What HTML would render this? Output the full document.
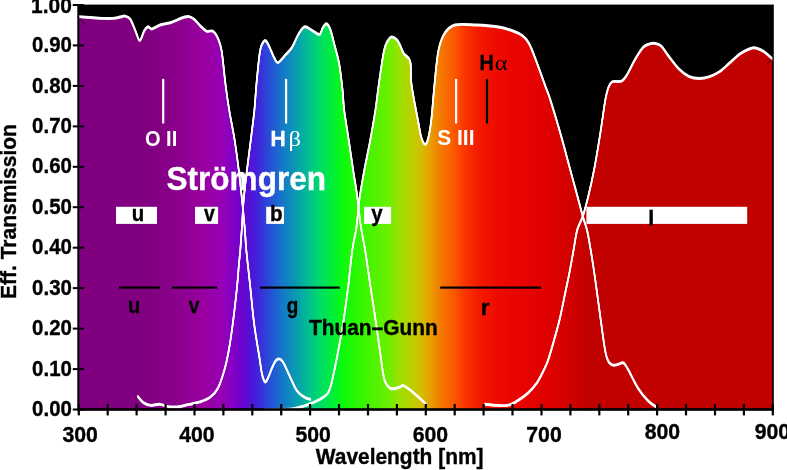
<!DOCTYPE html>
<html lang="en"><head><meta charset="utf-8"><title>Filter transmission: Strömgren and Thuan–Gunn</title>
<style>html,body{margin:0;padding:0;background:#fff;}body{width:787px;height:470px;overflow:hidden;}svg{display:block;}</style></head>
<body>
<svg width="787" height="470" viewBox="0 0 787 470" font-family="'Liberation Sans', sans-serif" font-weight="bold">
<defs><linearGradient id="sp" gradientUnits="userSpaceOnUse" x1="0" y1="0" x2="787" y2="0"><stop offset="0.0991" stop-color="rgb(128,0,128)"/><stop offset="0.1906" stop-color="rgb(128,0,128)"/><stop offset="0.2287" stop-color="rgb(140,0,142)"/><stop offset="0.2605" stop-color="rgb(154,0,160)"/><stop offset="0.2821" stop-color="rgb(150,0,182)"/><stop offset="0.2986" stop-color="rgb(126,0,200)"/><stop offset="0.3113" stop-color="rgb(98,6,210)"/><stop offset="0.3240" stop-color="rgb(70,28,218)"/><stop offset="0.3405" stop-color="rgb(42,72,216)"/><stop offset="0.3583" stop-color="rgb(22,118,202)"/><stop offset="0.3761" stop-color="rgb(8,155,178)"/><stop offset="0.3914" stop-color="rgb(0,190,145)"/><stop offset="0.4066" stop-color="rgb(0,220,104)"/><stop offset="0.4219" stop-color="rgb(0,238,60)"/><stop offset="0.4358" stop-color="rgb(12,250,12)"/><stop offset="0.4600" stop-color="rgb(55,246,0)"/><stop offset="0.4828" stop-color="rgb(92,241,0)"/><stop offset="0.4956" stop-color="rgb(112,238,0)"/><stop offset="0.5044" stop-color="rgb(148,226,0)"/><stop offset="0.5133" stop-color="rgb(166,218,0)"/><stop offset="0.5210" stop-color="rgb(182,211,0)"/><stop offset="0.5286" stop-color="rgb(200,200,0)"/><stop offset="0.5375" stop-color="rgb(215,185,0)"/><stop offset="0.5464" stop-color="rgb(230,160,0)"/><stop offset="0.5565" stop-color="rgb(242,130,0)"/><stop offset="0.5667" stop-color="rgb(248,108,0)"/><stop offset="0.5769" stop-color="rgb(250,88,0)"/><stop offset="0.5870" stop-color="rgb(250,62,0)"/><stop offset="0.5972" stop-color="rgb(248,42,0)"/><stop offset="0.6099" stop-color="rgb(245,24,0)"/><stop offset="0.6302" stop-color="rgb(238,11,0)"/><stop offset="0.6607" stop-color="rgb(232,4,0)"/><stop offset="0.6989" stop-color="rgb(222,0,0)"/><stop offset="0.7268" stop-color="rgb(208,0,0)"/><stop offset="0.7471" stop-color="rgb(193,0,0)"/><stop offset="0.9822" stop-color="rgb(193,0,0)"/></linearGradient></defs>
<rect x="0" y="0" width="787" height="470" fill="#fff"/>
<rect x="78" y="4.6" width="695" height="405.5" fill="#000"/>
<path d="M78.5,409.5 L78.50,16.60 C80.42,16.75 86.05,17.20 90.00,17.50 C93.95,17.80 98.47,18.25 102.20,18.40 C105.93,18.55 109.60,18.58 112.40,18.40 C115.20,18.22 116.87,17.68 119.00,17.30 C121.13,16.92 123.32,15.78 125.20,16.10 C127.08,16.42 128.60,16.77 130.30,19.20 C132.00,21.63 133.83,27.17 135.40,30.70 C136.97,34.23 138.22,40.40 139.70,40.40 C141.18,40.40 142.90,32.97 144.30,30.70 C145.70,28.43 146.82,27.10 148.10,26.80 C149.38,26.50 149.87,29.23 152.00,28.90 C154.13,28.57 157.72,25.87 160.90,24.80 C164.08,23.73 168.12,23.43 171.10,22.50 C174.08,21.57 176.65,20.08 178.80,19.20 C180.95,18.32 182.30,17.63 184.00,17.20 C185.70,16.77 187.32,16.27 189.00,16.60 C190.68,16.93 192.27,17.72 194.10,19.20 C195.93,20.68 197.95,23.50 200.00,25.50 C202.05,27.50 204.27,30.25 206.40,31.20 C208.53,32.15 210.88,30.02 212.80,31.20 C214.72,32.38 216.42,34.98 217.90,38.30 C219.38,41.62 220.43,43.43 221.70,51.10 C222.97,58.77 224.25,74.48 225.50,84.30 C226.75,94.12 227.68,100.75 229.20,110.00 C230.72,119.25 233.02,129.87 234.60,139.80 C236.18,149.73 237.47,159.67 238.70,169.60 C239.93,179.53 240.98,189.50 242.00,199.40 C243.02,209.30 244.08,220.57 244.80,229.00 C245.52,237.43 245.38,240.28 246.30,250.00 C247.22,259.72 248.98,274.92 250.30,287.30 C251.62,299.68 252.67,312.52 254.20,324.30 C255.73,336.08 258.20,349.72 259.50,358.00 C260.80,366.28 261.07,370.02 262.00,374.00 C262.93,377.98 264.10,381.23 265.10,381.90 C266.10,382.57 266.85,380.32 268.00,378.00 C269.15,375.68 270.75,370.83 272.00,368.00 C273.25,365.17 274.30,362.52 275.50,361.00 C276.70,359.48 277.95,358.73 279.20,358.90 C280.45,359.07 281.30,359.23 283.00,362.00 C284.70,364.77 287.07,370.68 289.40,375.50 C291.73,380.32 294.45,387.27 297.00,390.90 C299.55,394.53 302.48,395.90 304.70,397.30 C306.92,398.70 309.37,398.97 310.30,399.30 L310.3,409.5 Z" fill="url(#sp)"/>
<path d="M137.9,409.5 L137.90,396.50 C138.75,397.48 140.87,400.92 143.00,402.40 C145.13,403.88 147.93,405.10 150.70,405.40 C153.47,405.70 156.62,403.98 159.60,404.20 C162.58,404.42 165.40,406.28 168.60,406.70 C171.80,407.12 175.40,407.08 178.80,406.70 C182.20,406.32 185.47,405.20 189.00,404.40 C192.53,403.60 196.47,403.08 200.00,401.90 C203.53,400.72 207.22,399.57 210.20,397.30 C213.18,395.03 215.55,392.78 217.90,388.30 C220.25,383.82 222.53,376.45 224.30,370.40 C226.07,364.35 227.10,359.68 228.50,352.00 C229.90,344.32 231.28,335.08 232.70,324.30 C234.12,313.52 235.98,297.10 237.00,287.30 C238.02,277.50 238.25,271.72 238.80,265.50 C239.35,259.28 239.80,256.08 240.30,250.00 C240.80,243.92 241.23,237.43 241.80,229.00 C242.37,220.57 242.83,209.30 243.70,199.40 C244.57,189.50 245.82,179.53 247.00,169.60 C248.18,159.67 249.57,149.73 250.80,139.80 C252.03,129.87 253.47,119.25 254.40,110.00 C255.33,100.75 255.47,94.12 256.40,84.30 C257.33,74.48 258.85,58.13 260.00,51.10 C261.15,44.07 262.32,43.80 263.30,42.10 C264.28,40.40 264.95,40.25 265.90,40.90 C266.85,41.55 267.63,43.23 269.00,46.00 C270.37,48.77 272.62,54.73 274.10,57.50 C275.58,60.27 276.20,62.82 277.90,62.60 C279.60,62.38 281.95,58.75 284.30,56.20 C286.65,53.65 289.67,50.92 292.00,47.30 C294.33,43.68 296.18,37.92 298.30,34.50 C300.42,31.08 302.35,27.43 304.70,26.80 C307.05,26.17 309.93,29.42 312.40,30.70 C314.87,31.98 317.80,34.93 319.50,34.50 C321.20,34.07 321.45,29.88 322.60,28.10 C323.75,26.32 325.12,23.58 326.40,23.80 C327.68,24.02 329.02,26.13 330.30,29.40 C331.58,32.67 332.62,37.65 334.10,43.40 C335.58,49.15 337.80,56.23 339.20,63.90 C340.60,71.57 341.67,81.72 342.50,89.40 C343.33,97.08 343.17,101.60 344.20,110.00 C345.23,118.40 347.22,129.87 348.70,139.80 C350.18,149.73 351.67,160.17 353.10,169.60 C354.53,179.03 356.33,189.45 357.30,196.40 C358.27,203.35 358.23,205.83 358.90,211.30 C359.57,216.77 360.27,222.75 361.30,229.20 C362.33,235.65 363.55,240.32 365.10,250.00 C366.65,259.68 368.75,274.92 370.60,287.30 C372.45,299.68 374.55,313.02 376.20,324.30 C377.85,335.58 379.43,347.32 380.50,355.00 C381.57,362.68 381.82,365.92 382.60,370.40 C383.38,374.88 383.92,378.92 385.20,381.90 C386.48,384.88 388.50,387.23 390.30,388.30 C392.10,389.37 394.38,388.52 396.00,388.30 C397.62,388.08 398.70,387.42 400.00,387.00 C401.30,386.58 401.67,384.95 403.80,385.80 C405.93,386.65 409.18,389.13 412.80,392.10 C416.42,395.07 423.38,401.68 425.50,403.60 L425.5,409.5 Z" fill="url(#sp)"/>
<path d="M265.0,409.5 L265.00,409.60 C267.50,409.60 275.50,409.70 280.00,409.60 C284.50,409.50 288.73,409.38 292.00,409.00 C295.27,408.62 296.63,408.17 299.60,407.30 C302.57,406.43 306.40,405.13 309.80,403.80 C313.20,402.47 317.02,401.03 320.00,399.30 C322.98,397.57 325.78,396.08 327.70,393.40 C329.62,390.72 330.22,387.88 331.50,383.20 C332.78,378.52 334.32,370.50 335.40,365.30 C336.48,360.10 336.73,358.83 338.00,352.00 C339.27,345.17 341.32,335.08 343.00,324.30 C344.68,313.52 346.55,299.68 348.10,287.30 C349.65,274.92 350.95,259.68 352.30,250.00 C353.65,240.32 355.18,236.03 356.20,229.20 C357.22,222.37 357.80,214.47 358.40,209.00 C359.00,203.53 358.80,202.97 359.80,196.40 C360.80,189.83 362.65,179.03 364.40,169.60 C366.15,160.17 368.47,149.73 370.30,139.80 C372.13,129.87 373.98,119.25 375.40,110.00 C376.82,100.75 377.38,94.12 378.80,84.30 C380.22,74.48 382.42,58.33 383.90,51.10 C385.38,43.87 386.42,43.25 387.70,40.90 C388.98,38.55 390.10,37.22 391.60,37.00 C393.10,36.78 395.30,38.27 396.70,39.60 C398.10,40.93 398.82,42.67 400.00,45.00 C401.18,47.33 402.10,50.88 403.80,53.60 C405.50,56.32 408.92,56.18 410.20,61.30 C411.48,66.42 410.22,74.52 411.50,84.30 C412.78,94.08 416.23,111.05 417.90,120.00 C419.57,128.95 420.23,133.95 421.50,138.00 C422.77,142.05 424.33,144.47 425.50,144.30 C426.67,144.13 427.53,141.05 428.50,137.00 C429.47,132.95 430.30,128.78 431.30,120.00 C432.30,111.22 433.33,95.78 434.50,84.30 C435.67,72.82 436.60,59.62 438.30,51.10 C440.00,42.58 441.93,37.55 444.70,33.20 C447.47,28.85 449.58,26.37 454.90,25.00 C460.22,23.63 469.57,24.70 476.60,25.00 C483.63,25.30 491.13,25.85 497.10,26.80 C503.07,27.75 508.15,29.20 512.40,30.70 C516.65,32.20 519.83,33.68 522.60,35.80 C525.37,37.92 526.87,39.58 529.00,43.40 C531.13,47.22 532.63,51.47 535.40,58.70 C538.17,65.93 543.10,79.92 545.60,86.80 C548.10,93.68 547.90,92.13 550.40,100.00 C552.90,107.87 557.37,122.65 560.60,134.00 C563.83,145.35 567.03,157.88 569.80,168.10 C572.57,178.32 575.05,187.32 577.20,195.30 C579.35,203.28 581.07,210.22 582.70,216.00 C584.33,221.78 585.67,224.33 587.00,230.00 C588.33,235.67 589.38,242.13 590.70,250.00 C592.02,257.87 593.22,265.47 594.90,277.20 C596.58,288.93 599.17,308.60 600.80,320.40 C602.43,332.20 603.70,341.82 604.70,348.00 C605.70,354.18 606.00,355.00 606.80,357.50 C607.60,360.00 608.33,361.70 609.50,363.00 C610.67,364.30 612.23,365.13 613.80,365.30 C615.37,365.47 617.28,364.40 618.90,364.00 C620.52,363.60 622.00,362.03 623.50,362.90 C625.00,363.77 625.47,364.97 627.90,369.20 C630.33,373.43 634.70,382.98 638.10,388.30 C641.50,393.62 645.32,398.03 648.30,401.10 C651.28,404.17 654.72,405.77 656.00,406.70 L656.0,409.5 Z" fill="url(#sp)"/>
<path d="M485.0,409.5 L485.00,404.20 C487.00,404.40 493.28,405.20 497.00,405.40 C500.72,405.60 504.30,405.90 507.30,405.40 C510.30,404.90 511.60,404.40 515.00,402.40 C518.40,400.40 524.08,396.60 527.70,393.40 C531.32,390.20 534.15,386.82 536.70,383.20 C539.25,379.58 541.10,375.53 543.00,371.70 C544.90,367.87 546.30,365.32 548.10,360.20 C549.90,355.08 551.90,347.70 553.80,341.00 C555.70,334.30 557.63,327.83 559.50,320.00 C561.37,312.17 563.37,301.78 565.00,294.00 C566.63,286.22 567.90,280.47 569.30,273.30 C570.70,266.13 572.08,258.22 573.40,251.00 C574.72,243.78 575.62,235.83 577.20,230.00 C578.78,224.17 581.02,221.78 582.90,216.00 C584.78,210.22 586.58,203.28 588.50,195.30 C590.42,187.32 592.45,178.32 594.40,168.10 C596.35,157.88 598.38,145.35 600.20,134.00 C602.02,122.65 603.88,107.87 605.30,100.00 C606.72,92.13 607.50,89.85 608.70,86.80 C609.90,83.75 610.37,82.63 612.50,81.70 C614.63,80.77 619.15,82.25 621.50,81.20 C623.85,80.15 624.27,79.15 626.60,75.40 C628.93,71.65 632.73,63.38 635.50,58.70 C638.27,54.02 640.85,49.77 643.20,47.30 C645.55,44.83 647.68,44.55 649.60,43.90 C651.52,43.25 652.78,43.05 654.70,43.40 C656.62,43.75 658.77,43.87 661.10,46.00 C663.43,48.13 665.72,52.37 668.70,56.20 C671.68,60.03 675.58,65.60 679.00,69.00 C682.42,72.40 685.80,75.03 689.20,76.60 C692.60,78.17 696.00,78.40 699.40,78.40 C702.80,78.40 706.20,77.75 709.60,76.60 C713.00,75.45 716.40,73.83 719.80,71.50 C723.20,69.17 726.58,65.58 730.00,62.60 C733.42,59.62 736.88,55.95 740.30,53.60 C743.72,51.25 747.95,49.43 750.50,48.50 C753.05,47.57 753.48,47.57 755.60,48.00 C757.72,48.43 760.65,49.52 763.20,51.10 C765.75,52.68 769.35,56.18 770.90,57.50 C772.45,58.82 772.23,58.75 772.50,59.00 L772.5,409.5 Z" fill="url(#sp)"/>
<rect x="116.0" y="206.8" width="41.0" height="17.1" fill="#fff"/>
<rect x="195.0" y="206.8" width="23.1" height="17.1" fill="#fff"/>
<rect x="266.2" y="206.8" width="17.8" height="17.1" fill="#fff"/>
<rect x="364.1" y="206.8" width="27.0" height="17.1" fill="#fff"/>
<rect x="586.4" y="206.8" width="160.8" height="17.1" fill="#fff"/>
<path d="M78.50,16.60 C80.42,16.75 86.05,17.20 90.00,17.50 C93.95,17.80 98.47,18.25 102.20,18.40 C105.93,18.55 109.60,18.58 112.40,18.40 C115.20,18.22 116.87,17.68 119.00,17.30 C121.13,16.92 123.32,15.78 125.20,16.10 C127.08,16.42 128.60,16.77 130.30,19.20 C132.00,21.63 133.83,27.17 135.40,30.70 C136.97,34.23 138.22,40.40 139.70,40.40 C141.18,40.40 142.90,32.97 144.30,30.70 C145.70,28.43 146.82,27.10 148.10,26.80 C149.38,26.50 149.87,29.23 152.00,28.90 C154.13,28.57 157.72,25.87 160.90,24.80 C164.08,23.73 168.12,23.43 171.10,22.50 C174.08,21.57 176.65,20.08 178.80,19.20 C180.95,18.32 182.30,17.63 184.00,17.20 C185.70,16.77 187.32,16.27 189.00,16.60 C190.68,16.93 192.27,17.72 194.10,19.20 C195.93,20.68 197.95,23.50 200.00,25.50 C202.05,27.50 204.27,30.25 206.40,31.20 C208.53,32.15 210.88,30.02 212.80,31.20 C214.72,32.38 216.42,34.98 217.90,38.30 C219.38,41.62 220.43,43.43 221.70,51.10 C222.97,58.77 224.25,74.48 225.50,84.30 C226.75,94.12 227.68,100.75 229.20,110.00 C230.72,119.25 233.02,129.87 234.60,139.80 C236.18,149.73 237.47,159.67 238.70,169.60 C239.93,179.53 240.98,189.50 242.00,199.40 C243.02,209.30 244.08,220.57 244.80,229.00 C245.52,237.43 245.38,240.28 246.30,250.00 C247.22,259.72 248.98,274.92 250.30,287.30 C251.62,299.68 252.67,312.52 254.20,324.30 C255.73,336.08 258.20,349.72 259.50,358.00 C260.80,366.28 261.07,370.02 262.00,374.00 C262.93,377.98 264.10,381.23 265.10,381.90 C266.10,382.57 266.85,380.32 268.00,378.00 C269.15,375.68 270.75,370.83 272.00,368.00 C273.25,365.17 274.30,362.52 275.50,361.00 C276.70,359.48 277.95,358.73 279.20,358.90 C280.45,359.07 281.30,359.23 283.00,362.00 C284.70,364.77 287.07,370.68 289.40,375.50 C291.73,380.32 294.45,387.27 297.00,390.90 C299.55,394.53 302.48,395.90 304.70,397.30 C306.92,398.70 309.37,398.97 310.30,399.30" transform="translate(0,-0.70)" fill="none" stroke="#fff" stroke-width="1.55" stroke-linejoin="round" stroke-linecap="round"/>
<path d="M78.50,16.60 C80.42,16.75 86.05,17.20 90.00,17.50 C93.95,17.80 98.47,18.25 102.20,18.40 C105.93,18.55 109.60,18.58 112.40,18.40 C115.20,18.22 116.87,17.68 119.00,17.30 C121.13,16.92 123.32,15.78 125.20,16.10 C127.08,16.42 128.60,16.77 130.30,19.20 C132.00,21.63 133.83,27.17 135.40,30.70 C136.97,34.23 138.22,40.40 139.70,40.40 C141.18,40.40 142.90,32.97 144.30,30.70 C145.70,28.43 146.82,27.10 148.10,26.80 C149.38,26.50 149.87,29.23 152.00,28.90 C154.13,28.57 157.72,25.87 160.90,24.80 C164.08,23.73 168.12,23.43 171.10,22.50 C174.08,21.57 176.65,20.08 178.80,19.20 C180.95,18.32 182.30,17.63 184.00,17.20 C185.70,16.77 187.32,16.27 189.00,16.60 C190.68,16.93 192.27,17.72 194.10,19.20 C195.93,20.68 197.95,23.50 200.00,25.50 C202.05,27.50 204.27,30.25 206.40,31.20 C208.53,32.15 210.88,30.02 212.80,31.20 C214.72,32.38 216.42,34.98 217.90,38.30 C219.38,41.62 220.43,43.43 221.70,51.10 C222.97,58.77 224.25,74.48 225.50,84.30 C226.75,94.12 227.68,100.75 229.20,110.00 C230.72,119.25 233.02,129.87 234.60,139.80 C236.18,149.73 237.47,159.67 238.70,169.60 C239.93,179.53 240.98,189.50 242.00,199.40 C243.02,209.30 244.08,220.57 244.80,229.00 C245.52,237.43 245.38,240.28 246.30,250.00 C247.22,259.72 248.98,274.92 250.30,287.30 C251.62,299.68 252.67,312.52 254.20,324.30 C255.73,336.08 258.20,349.72 259.50,358.00 C260.80,366.28 261.07,370.02 262.00,374.00 C262.93,377.98 264.10,381.23 265.10,381.90 C266.10,382.57 266.85,380.32 268.00,378.00 C269.15,375.68 270.75,370.83 272.00,368.00 C273.25,365.17 274.30,362.52 275.50,361.00 C276.70,359.48 277.95,358.73 279.20,358.90 C280.45,359.07 281.30,359.23 283.00,362.00 C284.70,364.77 287.07,370.68 289.40,375.50 C291.73,380.32 294.45,387.27 297.00,390.90 C299.55,394.53 302.48,395.90 304.70,397.30 C306.92,398.70 309.37,398.97 310.30,399.30" transform="translate(0,0.00)" fill="none" stroke="#fff" stroke-width="1.55" stroke-linejoin="round" stroke-linecap="round"/>
<path d="M78.50,16.60 C80.42,16.75 86.05,17.20 90.00,17.50 C93.95,17.80 98.47,18.25 102.20,18.40 C105.93,18.55 109.60,18.58 112.40,18.40 C115.20,18.22 116.87,17.68 119.00,17.30 C121.13,16.92 123.32,15.78 125.20,16.10 C127.08,16.42 128.60,16.77 130.30,19.20 C132.00,21.63 133.83,27.17 135.40,30.70 C136.97,34.23 138.22,40.40 139.70,40.40 C141.18,40.40 142.90,32.97 144.30,30.70 C145.70,28.43 146.82,27.10 148.10,26.80 C149.38,26.50 149.87,29.23 152.00,28.90 C154.13,28.57 157.72,25.87 160.90,24.80 C164.08,23.73 168.12,23.43 171.10,22.50 C174.08,21.57 176.65,20.08 178.80,19.20 C180.95,18.32 182.30,17.63 184.00,17.20 C185.70,16.77 187.32,16.27 189.00,16.60 C190.68,16.93 192.27,17.72 194.10,19.20 C195.93,20.68 197.95,23.50 200.00,25.50 C202.05,27.50 204.27,30.25 206.40,31.20 C208.53,32.15 210.88,30.02 212.80,31.20 C214.72,32.38 216.42,34.98 217.90,38.30 C219.38,41.62 220.43,43.43 221.70,51.10 C222.97,58.77 224.25,74.48 225.50,84.30 C226.75,94.12 227.68,100.75 229.20,110.00 C230.72,119.25 233.02,129.87 234.60,139.80 C236.18,149.73 237.47,159.67 238.70,169.60 C239.93,179.53 240.98,189.50 242.00,199.40 C243.02,209.30 244.08,220.57 244.80,229.00 C245.52,237.43 245.38,240.28 246.30,250.00 C247.22,259.72 248.98,274.92 250.30,287.30 C251.62,299.68 252.67,312.52 254.20,324.30 C255.73,336.08 258.20,349.72 259.50,358.00 C260.80,366.28 261.07,370.02 262.00,374.00 C262.93,377.98 264.10,381.23 265.10,381.90 C266.10,382.57 266.85,380.32 268.00,378.00 C269.15,375.68 270.75,370.83 272.00,368.00 C273.25,365.17 274.30,362.52 275.50,361.00 C276.70,359.48 277.95,358.73 279.20,358.90 C280.45,359.07 281.30,359.23 283.00,362.00 C284.70,364.77 287.07,370.68 289.40,375.50 C291.73,380.32 294.45,387.27 297.00,390.90 C299.55,394.53 302.48,395.90 304.70,397.30 C306.92,398.70 309.37,398.97 310.30,399.30" transform="translate(0,0.70)" fill="none" stroke="#fff" stroke-width="1.55" stroke-linejoin="round" stroke-linecap="round"/>
<path d="M137.90,396.50 C138.75,397.48 140.87,400.92 143.00,402.40 C145.13,403.88 147.93,405.10 150.70,405.40 C153.47,405.70 156.62,403.98 159.60,404.20 C162.58,404.42 165.40,406.28 168.60,406.70 C171.80,407.12 175.40,407.08 178.80,406.70 C182.20,406.32 185.47,405.20 189.00,404.40 C192.53,403.60 196.47,403.08 200.00,401.90 C203.53,400.72 207.22,399.57 210.20,397.30 C213.18,395.03 215.55,392.78 217.90,388.30 C220.25,383.82 222.53,376.45 224.30,370.40 C226.07,364.35 227.10,359.68 228.50,352.00 C229.90,344.32 231.28,335.08 232.70,324.30 C234.12,313.52 235.98,297.10 237.00,287.30 C238.02,277.50 238.25,271.72 238.80,265.50 C239.35,259.28 239.80,256.08 240.30,250.00 C240.80,243.92 241.23,237.43 241.80,229.00 C242.37,220.57 242.83,209.30 243.70,199.40 C244.57,189.50 245.82,179.53 247.00,169.60 C248.18,159.67 249.57,149.73 250.80,139.80 C252.03,129.87 253.47,119.25 254.40,110.00 C255.33,100.75 255.47,94.12 256.40,84.30 C257.33,74.48 258.85,58.13 260.00,51.10 C261.15,44.07 262.32,43.80 263.30,42.10 C264.28,40.40 264.95,40.25 265.90,40.90 C266.85,41.55 267.63,43.23 269.00,46.00 C270.37,48.77 272.62,54.73 274.10,57.50 C275.58,60.27 276.20,62.82 277.90,62.60 C279.60,62.38 281.95,58.75 284.30,56.20 C286.65,53.65 289.67,50.92 292.00,47.30 C294.33,43.68 296.18,37.92 298.30,34.50 C300.42,31.08 302.35,27.43 304.70,26.80 C307.05,26.17 309.93,29.42 312.40,30.70 C314.87,31.98 317.80,34.93 319.50,34.50 C321.20,34.07 321.45,29.88 322.60,28.10 C323.75,26.32 325.12,23.58 326.40,23.80 C327.68,24.02 329.02,26.13 330.30,29.40 C331.58,32.67 332.62,37.65 334.10,43.40 C335.58,49.15 337.80,56.23 339.20,63.90 C340.60,71.57 341.67,81.72 342.50,89.40 C343.33,97.08 343.17,101.60 344.20,110.00 C345.23,118.40 347.22,129.87 348.70,139.80 C350.18,149.73 351.67,160.17 353.10,169.60 C354.53,179.03 356.33,189.45 357.30,196.40 C358.27,203.35 358.23,205.83 358.90,211.30 C359.57,216.77 360.27,222.75 361.30,229.20 C362.33,235.65 363.55,240.32 365.10,250.00 C366.65,259.68 368.75,274.92 370.60,287.30 C372.45,299.68 374.55,313.02 376.20,324.30 C377.85,335.58 379.43,347.32 380.50,355.00 C381.57,362.68 381.82,365.92 382.60,370.40 C383.38,374.88 383.92,378.92 385.20,381.90 C386.48,384.88 388.50,387.23 390.30,388.30 C392.10,389.37 394.38,388.52 396.00,388.30 C397.62,388.08 398.70,387.42 400.00,387.00 C401.30,386.58 401.67,384.95 403.80,385.80 C405.93,386.65 409.18,389.13 412.80,392.10 C416.42,395.07 423.38,401.68 425.50,403.60" transform="translate(0,-0.70)" fill="none" stroke="#fff" stroke-width="1.55" stroke-linejoin="round" stroke-linecap="round"/>
<path d="M137.90,396.50 C138.75,397.48 140.87,400.92 143.00,402.40 C145.13,403.88 147.93,405.10 150.70,405.40 C153.47,405.70 156.62,403.98 159.60,404.20 C162.58,404.42 165.40,406.28 168.60,406.70 C171.80,407.12 175.40,407.08 178.80,406.70 C182.20,406.32 185.47,405.20 189.00,404.40 C192.53,403.60 196.47,403.08 200.00,401.90 C203.53,400.72 207.22,399.57 210.20,397.30 C213.18,395.03 215.55,392.78 217.90,388.30 C220.25,383.82 222.53,376.45 224.30,370.40 C226.07,364.35 227.10,359.68 228.50,352.00 C229.90,344.32 231.28,335.08 232.70,324.30 C234.12,313.52 235.98,297.10 237.00,287.30 C238.02,277.50 238.25,271.72 238.80,265.50 C239.35,259.28 239.80,256.08 240.30,250.00 C240.80,243.92 241.23,237.43 241.80,229.00 C242.37,220.57 242.83,209.30 243.70,199.40 C244.57,189.50 245.82,179.53 247.00,169.60 C248.18,159.67 249.57,149.73 250.80,139.80 C252.03,129.87 253.47,119.25 254.40,110.00 C255.33,100.75 255.47,94.12 256.40,84.30 C257.33,74.48 258.85,58.13 260.00,51.10 C261.15,44.07 262.32,43.80 263.30,42.10 C264.28,40.40 264.95,40.25 265.90,40.90 C266.85,41.55 267.63,43.23 269.00,46.00 C270.37,48.77 272.62,54.73 274.10,57.50 C275.58,60.27 276.20,62.82 277.90,62.60 C279.60,62.38 281.95,58.75 284.30,56.20 C286.65,53.65 289.67,50.92 292.00,47.30 C294.33,43.68 296.18,37.92 298.30,34.50 C300.42,31.08 302.35,27.43 304.70,26.80 C307.05,26.17 309.93,29.42 312.40,30.70 C314.87,31.98 317.80,34.93 319.50,34.50 C321.20,34.07 321.45,29.88 322.60,28.10 C323.75,26.32 325.12,23.58 326.40,23.80 C327.68,24.02 329.02,26.13 330.30,29.40 C331.58,32.67 332.62,37.65 334.10,43.40 C335.58,49.15 337.80,56.23 339.20,63.90 C340.60,71.57 341.67,81.72 342.50,89.40 C343.33,97.08 343.17,101.60 344.20,110.00 C345.23,118.40 347.22,129.87 348.70,139.80 C350.18,149.73 351.67,160.17 353.10,169.60 C354.53,179.03 356.33,189.45 357.30,196.40 C358.27,203.35 358.23,205.83 358.90,211.30 C359.57,216.77 360.27,222.75 361.30,229.20 C362.33,235.65 363.55,240.32 365.10,250.00 C366.65,259.68 368.75,274.92 370.60,287.30 C372.45,299.68 374.55,313.02 376.20,324.30 C377.85,335.58 379.43,347.32 380.50,355.00 C381.57,362.68 381.82,365.92 382.60,370.40 C383.38,374.88 383.92,378.92 385.20,381.90 C386.48,384.88 388.50,387.23 390.30,388.30 C392.10,389.37 394.38,388.52 396.00,388.30 C397.62,388.08 398.70,387.42 400.00,387.00 C401.30,386.58 401.67,384.95 403.80,385.80 C405.93,386.65 409.18,389.13 412.80,392.10 C416.42,395.07 423.38,401.68 425.50,403.60" transform="translate(0,0.00)" fill="none" stroke="#fff" stroke-width="1.55" stroke-linejoin="round" stroke-linecap="round"/>
<path d="M137.90,396.50 C138.75,397.48 140.87,400.92 143.00,402.40 C145.13,403.88 147.93,405.10 150.70,405.40 C153.47,405.70 156.62,403.98 159.60,404.20 C162.58,404.42 165.40,406.28 168.60,406.70 C171.80,407.12 175.40,407.08 178.80,406.70 C182.20,406.32 185.47,405.20 189.00,404.40 C192.53,403.60 196.47,403.08 200.00,401.90 C203.53,400.72 207.22,399.57 210.20,397.30 C213.18,395.03 215.55,392.78 217.90,388.30 C220.25,383.82 222.53,376.45 224.30,370.40 C226.07,364.35 227.10,359.68 228.50,352.00 C229.90,344.32 231.28,335.08 232.70,324.30 C234.12,313.52 235.98,297.10 237.00,287.30 C238.02,277.50 238.25,271.72 238.80,265.50 C239.35,259.28 239.80,256.08 240.30,250.00 C240.80,243.92 241.23,237.43 241.80,229.00 C242.37,220.57 242.83,209.30 243.70,199.40 C244.57,189.50 245.82,179.53 247.00,169.60 C248.18,159.67 249.57,149.73 250.80,139.80 C252.03,129.87 253.47,119.25 254.40,110.00 C255.33,100.75 255.47,94.12 256.40,84.30 C257.33,74.48 258.85,58.13 260.00,51.10 C261.15,44.07 262.32,43.80 263.30,42.10 C264.28,40.40 264.95,40.25 265.90,40.90 C266.85,41.55 267.63,43.23 269.00,46.00 C270.37,48.77 272.62,54.73 274.10,57.50 C275.58,60.27 276.20,62.82 277.90,62.60 C279.60,62.38 281.95,58.75 284.30,56.20 C286.65,53.65 289.67,50.92 292.00,47.30 C294.33,43.68 296.18,37.92 298.30,34.50 C300.42,31.08 302.35,27.43 304.70,26.80 C307.05,26.17 309.93,29.42 312.40,30.70 C314.87,31.98 317.80,34.93 319.50,34.50 C321.20,34.07 321.45,29.88 322.60,28.10 C323.75,26.32 325.12,23.58 326.40,23.80 C327.68,24.02 329.02,26.13 330.30,29.40 C331.58,32.67 332.62,37.65 334.10,43.40 C335.58,49.15 337.80,56.23 339.20,63.90 C340.60,71.57 341.67,81.72 342.50,89.40 C343.33,97.08 343.17,101.60 344.20,110.00 C345.23,118.40 347.22,129.87 348.70,139.80 C350.18,149.73 351.67,160.17 353.10,169.60 C354.53,179.03 356.33,189.45 357.30,196.40 C358.27,203.35 358.23,205.83 358.90,211.30 C359.57,216.77 360.27,222.75 361.30,229.20 C362.33,235.65 363.55,240.32 365.10,250.00 C366.65,259.68 368.75,274.92 370.60,287.30 C372.45,299.68 374.55,313.02 376.20,324.30 C377.85,335.58 379.43,347.32 380.50,355.00 C381.57,362.68 381.82,365.92 382.60,370.40 C383.38,374.88 383.92,378.92 385.20,381.90 C386.48,384.88 388.50,387.23 390.30,388.30 C392.10,389.37 394.38,388.52 396.00,388.30 C397.62,388.08 398.70,387.42 400.00,387.00 C401.30,386.58 401.67,384.95 403.80,385.80 C405.93,386.65 409.18,389.13 412.80,392.10 C416.42,395.07 423.38,401.68 425.50,403.60" transform="translate(0,0.70)" fill="none" stroke="#fff" stroke-width="1.55" stroke-linejoin="round" stroke-linecap="round"/>
<path d="M265.00,409.60 C267.50,409.60 275.50,409.70 280.00,409.60 C284.50,409.50 288.73,409.38 292.00,409.00 C295.27,408.62 296.63,408.17 299.60,407.30 C302.57,406.43 306.40,405.13 309.80,403.80 C313.20,402.47 317.02,401.03 320.00,399.30 C322.98,397.57 325.78,396.08 327.70,393.40 C329.62,390.72 330.22,387.88 331.50,383.20 C332.78,378.52 334.32,370.50 335.40,365.30 C336.48,360.10 336.73,358.83 338.00,352.00 C339.27,345.17 341.32,335.08 343.00,324.30 C344.68,313.52 346.55,299.68 348.10,287.30 C349.65,274.92 350.95,259.68 352.30,250.00 C353.65,240.32 355.18,236.03 356.20,229.20 C357.22,222.37 357.80,214.47 358.40,209.00 C359.00,203.53 358.80,202.97 359.80,196.40 C360.80,189.83 362.65,179.03 364.40,169.60 C366.15,160.17 368.47,149.73 370.30,139.80 C372.13,129.87 373.98,119.25 375.40,110.00 C376.82,100.75 377.38,94.12 378.80,84.30 C380.22,74.48 382.42,58.33 383.90,51.10 C385.38,43.87 386.42,43.25 387.70,40.90 C388.98,38.55 390.10,37.22 391.60,37.00 C393.10,36.78 395.30,38.27 396.70,39.60 C398.10,40.93 398.82,42.67 400.00,45.00 C401.18,47.33 402.10,50.88 403.80,53.60 C405.50,56.32 408.92,56.18 410.20,61.30 C411.48,66.42 410.22,74.52 411.50,84.30 C412.78,94.08 416.23,111.05 417.90,120.00 C419.57,128.95 420.23,133.95 421.50,138.00 C422.77,142.05 424.33,144.47 425.50,144.30 C426.67,144.13 427.53,141.05 428.50,137.00 C429.47,132.95 430.30,128.78 431.30,120.00 C432.30,111.22 433.33,95.78 434.50,84.30 C435.67,72.82 436.60,59.62 438.30,51.10 C440.00,42.58 441.93,37.55 444.70,33.20 C447.47,28.85 449.58,26.37 454.90,25.00 C460.22,23.63 469.57,24.70 476.60,25.00 C483.63,25.30 491.13,25.85 497.10,26.80 C503.07,27.75 508.15,29.20 512.40,30.70 C516.65,32.20 519.83,33.68 522.60,35.80 C525.37,37.92 526.87,39.58 529.00,43.40 C531.13,47.22 532.63,51.47 535.40,58.70 C538.17,65.93 543.10,79.92 545.60,86.80 C548.10,93.68 547.90,92.13 550.40,100.00 C552.90,107.87 557.37,122.65 560.60,134.00 C563.83,145.35 567.03,157.88 569.80,168.10 C572.57,178.32 575.05,187.32 577.20,195.30 C579.35,203.28 581.07,210.22 582.70,216.00 C584.33,221.78 585.67,224.33 587.00,230.00 C588.33,235.67 589.38,242.13 590.70,250.00 C592.02,257.87 593.22,265.47 594.90,277.20 C596.58,288.93 599.17,308.60 600.80,320.40 C602.43,332.20 603.70,341.82 604.70,348.00 C605.70,354.18 606.00,355.00 606.80,357.50 C607.60,360.00 608.33,361.70 609.50,363.00 C610.67,364.30 612.23,365.13 613.80,365.30 C615.37,365.47 617.28,364.40 618.90,364.00 C620.52,363.60 622.00,362.03 623.50,362.90 C625.00,363.77 625.47,364.97 627.90,369.20 C630.33,373.43 634.70,382.98 638.10,388.30 C641.50,393.62 645.32,398.03 648.30,401.10 C651.28,404.17 654.72,405.77 656.00,406.70" transform="translate(0,-0.70)" fill="none" stroke="#fff" stroke-width="1.55" stroke-linejoin="round" stroke-linecap="round"/>
<path d="M265.00,409.60 C267.50,409.60 275.50,409.70 280.00,409.60 C284.50,409.50 288.73,409.38 292.00,409.00 C295.27,408.62 296.63,408.17 299.60,407.30 C302.57,406.43 306.40,405.13 309.80,403.80 C313.20,402.47 317.02,401.03 320.00,399.30 C322.98,397.57 325.78,396.08 327.70,393.40 C329.62,390.72 330.22,387.88 331.50,383.20 C332.78,378.52 334.32,370.50 335.40,365.30 C336.48,360.10 336.73,358.83 338.00,352.00 C339.27,345.17 341.32,335.08 343.00,324.30 C344.68,313.52 346.55,299.68 348.10,287.30 C349.65,274.92 350.95,259.68 352.30,250.00 C353.65,240.32 355.18,236.03 356.20,229.20 C357.22,222.37 357.80,214.47 358.40,209.00 C359.00,203.53 358.80,202.97 359.80,196.40 C360.80,189.83 362.65,179.03 364.40,169.60 C366.15,160.17 368.47,149.73 370.30,139.80 C372.13,129.87 373.98,119.25 375.40,110.00 C376.82,100.75 377.38,94.12 378.80,84.30 C380.22,74.48 382.42,58.33 383.90,51.10 C385.38,43.87 386.42,43.25 387.70,40.90 C388.98,38.55 390.10,37.22 391.60,37.00 C393.10,36.78 395.30,38.27 396.70,39.60 C398.10,40.93 398.82,42.67 400.00,45.00 C401.18,47.33 402.10,50.88 403.80,53.60 C405.50,56.32 408.92,56.18 410.20,61.30 C411.48,66.42 410.22,74.52 411.50,84.30 C412.78,94.08 416.23,111.05 417.90,120.00 C419.57,128.95 420.23,133.95 421.50,138.00 C422.77,142.05 424.33,144.47 425.50,144.30 C426.67,144.13 427.53,141.05 428.50,137.00 C429.47,132.95 430.30,128.78 431.30,120.00 C432.30,111.22 433.33,95.78 434.50,84.30 C435.67,72.82 436.60,59.62 438.30,51.10 C440.00,42.58 441.93,37.55 444.70,33.20 C447.47,28.85 449.58,26.37 454.90,25.00 C460.22,23.63 469.57,24.70 476.60,25.00 C483.63,25.30 491.13,25.85 497.10,26.80 C503.07,27.75 508.15,29.20 512.40,30.70 C516.65,32.20 519.83,33.68 522.60,35.80 C525.37,37.92 526.87,39.58 529.00,43.40 C531.13,47.22 532.63,51.47 535.40,58.70 C538.17,65.93 543.10,79.92 545.60,86.80 C548.10,93.68 547.90,92.13 550.40,100.00 C552.90,107.87 557.37,122.65 560.60,134.00 C563.83,145.35 567.03,157.88 569.80,168.10 C572.57,178.32 575.05,187.32 577.20,195.30 C579.35,203.28 581.07,210.22 582.70,216.00 C584.33,221.78 585.67,224.33 587.00,230.00 C588.33,235.67 589.38,242.13 590.70,250.00 C592.02,257.87 593.22,265.47 594.90,277.20 C596.58,288.93 599.17,308.60 600.80,320.40 C602.43,332.20 603.70,341.82 604.70,348.00 C605.70,354.18 606.00,355.00 606.80,357.50 C607.60,360.00 608.33,361.70 609.50,363.00 C610.67,364.30 612.23,365.13 613.80,365.30 C615.37,365.47 617.28,364.40 618.90,364.00 C620.52,363.60 622.00,362.03 623.50,362.90 C625.00,363.77 625.47,364.97 627.90,369.20 C630.33,373.43 634.70,382.98 638.10,388.30 C641.50,393.62 645.32,398.03 648.30,401.10 C651.28,404.17 654.72,405.77 656.00,406.70" transform="translate(0,0.00)" fill="none" stroke="#fff" stroke-width="1.55" stroke-linejoin="round" stroke-linecap="round"/>
<path d="M265.00,409.60 C267.50,409.60 275.50,409.70 280.00,409.60 C284.50,409.50 288.73,409.38 292.00,409.00 C295.27,408.62 296.63,408.17 299.60,407.30 C302.57,406.43 306.40,405.13 309.80,403.80 C313.20,402.47 317.02,401.03 320.00,399.30 C322.98,397.57 325.78,396.08 327.70,393.40 C329.62,390.72 330.22,387.88 331.50,383.20 C332.78,378.52 334.32,370.50 335.40,365.30 C336.48,360.10 336.73,358.83 338.00,352.00 C339.27,345.17 341.32,335.08 343.00,324.30 C344.68,313.52 346.55,299.68 348.10,287.30 C349.65,274.92 350.95,259.68 352.30,250.00 C353.65,240.32 355.18,236.03 356.20,229.20 C357.22,222.37 357.80,214.47 358.40,209.00 C359.00,203.53 358.80,202.97 359.80,196.40 C360.80,189.83 362.65,179.03 364.40,169.60 C366.15,160.17 368.47,149.73 370.30,139.80 C372.13,129.87 373.98,119.25 375.40,110.00 C376.82,100.75 377.38,94.12 378.80,84.30 C380.22,74.48 382.42,58.33 383.90,51.10 C385.38,43.87 386.42,43.25 387.70,40.90 C388.98,38.55 390.10,37.22 391.60,37.00 C393.10,36.78 395.30,38.27 396.70,39.60 C398.10,40.93 398.82,42.67 400.00,45.00 C401.18,47.33 402.10,50.88 403.80,53.60 C405.50,56.32 408.92,56.18 410.20,61.30 C411.48,66.42 410.22,74.52 411.50,84.30 C412.78,94.08 416.23,111.05 417.90,120.00 C419.57,128.95 420.23,133.95 421.50,138.00 C422.77,142.05 424.33,144.47 425.50,144.30 C426.67,144.13 427.53,141.05 428.50,137.00 C429.47,132.95 430.30,128.78 431.30,120.00 C432.30,111.22 433.33,95.78 434.50,84.30 C435.67,72.82 436.60,59.62 438.30,51.10 C440.00,42.58 441.93,37.55 444.70,33.20 C447.47,28.85 449.58,26.37 454.90,25.00 C460.22,23.63 469.57,24.70 476.60,25.00 C483.63,25.30 491.13,25.85 497.10,26.80 C503.07,27.75 508.15,29.20 512.40,30.70 C516.65,32.20 519.83,33.68 522.60,35.80 C525.37,37.92 526.87,39.58 529.00,43.40 C531.13,47.22 532.63,51.47 535.40,58.70 C538.17,65.93 543.10,79.92 545.60,86.80 C548.10,93.68 547.90,92.13 550.40,100.00 C552.90,107.87 557.37,122.65 560.60,134.00 C563.83,145.35 567.03,157.88 569.80,168.10 C572.57,178.32 575.05,187.32 577.20,195.30 C579.35,203.28 581.07,210.22 582.70,216.00 C584.33,221.78 585.67,224.33 587.00,230.00 C588.33,235.67 589.38,242.13 590.70,250.00 C592.02,257.87 593.22,265.47 594.90,277.20 C596.58,288.93 599.17,308.60 600.80,320.40 C602.43,332.20 603.70,341.82 604.70,348.00 C605.70,354.18 606.00,355.00 606.80,357.50 C607.60,360.00 608.33,361.70 609.50,363.00 C610.67,364.30 612.23,365.13 613.80,365.30 C615.37,365.47 617.28,364.40 618.90,364.00 C620.52,363.60 622.00,362.03 623.50,362.90 C625.00,363.77 625.47,364.97 627.90,369.20 C630.33,373.43 634.70,382.98 638.10,388.30 C641.50,393.62 645.32,398.03 648.30,401.10 C651.28,404.17 654.72,405.77 656.00,406.70" transform="translate(0,0.70)" fill="none" stroke="#fff" stroke-width="1.55" stroke-linejoin="round" stroke-linecap="round"/>
<path d="M485.00,404.20 C487.00,404.40 493.28,405.20 497.00,405.40 C500.72,405.60 504.30,405.90 507.30,405.40 C510.30,404.90 511.60,404.40 515.00,402.40 C518.40,400.40 524.08,396.60 527.70,393.40 C531.32,390.20 534.15,386.82 536.70,383.20 C539.25,379.58 541.10,375.53 543.00,371.70 C544.90,367.87 546.30,365.32 548.10,360.20 C549.90,355.08 551.90,347.70 553.80,341.00 C555.70,334.30 557.63,327.83 559.50,320.00 C561.37,312.17 563.37,301.78 565.00,294.00 C566.63,286.22 567.90,280.47 569.30,273.30 C570.70,266.13 572.08,258.22 573.40,251.00 C574.72,243.78 575.62,235.83 577.20,230.00 C578.78,224.17 581.02,221.78 582.90,216.00 C584.78,210.22 586.58,203.28 588.50,195.30 C590.42,187.32 592.45,178.32 594.40,168.10 C596.35,157.88 598.38,145.35 600.20,134.00 C602.02,122.65 603.88,107.87 605.30,100.00 C606.72,92.13 607.50,89.85 608.70,86.80 C609.90,83.75 610.37,82.63 612.50,81.70 C614.63,80.77 619.15,82.25 621.50,81.20 C623.85,80.15 624.27,79.15 626.60,75.40 C628.93,71.65 632.73,63.38 635.50,58.70 C638.27,54.02 640.85,49.77 643.20,47.30 C645.55,44.83 647.68,44.55 649.60,43.90 C651.52,43.25 652.78,43.05 654.70,43.40 C656.62,43.75 658.77,43.87 661.10,46.00 C663.43,48.13 665.72,52.37 668.70,56.20 C671.68,60.03 675.58,65.60 679.00,69.00 C682.42,72.40 685.80,75.03 689.20,76.60 C692.60,78.17 696.00,78.40 699.40,78.40 C702.80,78.40 706.20,77.75 709.60,76.60 C713.00,75.45 716.40,73.83 719.80,71.50 C723.20,69.17 726.58,65.58 730.00,62.60 C733.42,59.62 736.88,55.95 740.30,53.60 C743.72,51.25 747.95,49.43 750.50,48.50 C753.05,47.57 753.48,47.57 755.60,48.00 C757.72,48.43 760.65,49.52 763.20,51.10 C765.75,52.68 769.35,56.18 770.90,57.50 C772.45,58.82 772.23,58.75 772.50,59.00" transform="translate(0,-0.70)" fill="none" stroke="#fff" stroke-width="1.55" stroke-linejoin="round" stroke-linecap="round"/>
<path d="M485.00,404.20 C487.00,404.40 493.28,405.20 497.00,405.40 C500.72,405.60 504.30,405.90 507.30,405.40 C510.30,404.90 511.60,404.40 515.00,402.40 C518.40,400.40 524.08,396.60 527.70,393.40 C531.32,390.20 534.15,386.82 536.70,383.20 C539.25,379.58 541.10,375.53 543.00,371.70 C544.90,367.87 546.30,365.32 548.10,360.20 C549.90,355.08 551.90,347.70 553.80,341.00 C555.70,334.30 557.63,327.83 559.50,320.00 C561.37,312.17 563.37,301.78 565.00,294.00 C566.63,286.22 567.90,280.47 569.30,273.30 C570.70,266.13 572.08,258.22 573.40,251.00 C574.72,243.78 575.62,235.83 577.20,230.00 C578.78,224.17 581.02,221.78 582.90,216.00 C584.78,210.22 586.58,203.28 588.50,195.30 C590.42,187.32 592.45,178.32 594.40,168.10 C596.35,157.88 598.38,145.35 600.20,134.00 C602.02,122.65 603.88,107.87 605.30,100.00 C606.72,92.13 607.50,89.85 608.70,86.80 C609.90,83.75 610.37,82.63 612.50,81.70 C614.63,80.77 619.15,82.25 621.50,81.20 C623.85,80.15 624.27,79.15 626.60,75.40 C628.93,71.65 632.73,63.38 635.50,58.70 C638.27,54.02 640.85,49.77 643.20,47.30 C645.55,44.83 647.68,44.55 649.60,43.90 C651.52,43.25 652.78,43.05 654.70,43.40 C656.62,43.75 658.77,43.87 661.10,46.00 C663.43,48.13 665.72,52.37 668.70,56.20 C671.68,60.03 675.58,65.60 679.00,69.00 C682.42,72.40 685.80,75.03 689.20,76.60 C692.60,78.17 696.00,78.40 699.40,78.40 C702.80,78.40 706.20,77.75 709.60,76.60 C713.00,75.45 716.40,73.83 719.80,71.50 C723.20,69.17 726.58,65.58 730.00,62.60 C733.42,59.62 736.88,55.95 740.30,53.60 C743.72,51.25 747.95,49.43 750.50,48.50 C753.05,47.57 753.48,47.57 755.60,48.00 C757.72,48.43 760.65,49.52 763.20,51.10 C765.75,52.68 769.35,56.18 770.90,57.50 C772.45,58.82 772.23,58.75 772.50,59.00" transform="translate(0,0.00)" fill="none" stroke="#fff" stroke-width="1.55" stroke-linejoin="round" stroke-linecap="round"/>
<path d="M485.00,404.20 C487.00,404.40 493.28,405.20 497.00,405.40 C500.72,405.60 504.30,405.90 507.30,405.40 C510.30,404.90 511.60,404.40 515.00,402.40 C518.40,400.40 524.08,396.60 527.70,393.40 C531.32,390.20 534.15,386.82 536.70,383.20 C539.25,379.58 541.10,375.53 543.00,371.70 C544.90,367.87 546.30,365.32 548.10,360.20 C549.90,355.08 551.90,347.70 553.80,341.00 C555.70,334.30 557.63,327.83 559.50,320.00 C561.37,312.17 563.37,301.78 565.00,294.00 C566.63,286.22 567.90,280.47 569.30,273.30 C570.70,266.13 572.08,258.22 573.40,251.00 C574.72,243.78 575.62,235.83 577.20,230.00 C578.78,224.17 581.02,221.78 582.90,216.00 C584.78,210.22 586.58,203.28 588.50,195.30 C590.42,187.32 592.45,178.32 594.40,168.10 C596.35,157.88 598.38,145.35 600.20,134.00 C602.02,122.65 603.88,107.87 605.30,100.00 C606.72,92.13 607.50,89.85 608.70,86.80 C609.90,83.75 610.37,82.63 612.50,81.70 C614.63,80.77 619.15,82.25 621.50,81.20 C623.85,80.15 624.27,79.15 626.60,75.40 C628.93,71.65 632.73,63.38 635.50,58.70 C638.27,54.02 640.85,49.77 643.20,47.30 C645.55,44.83 647.68,44.55 649.60,43.90 C651.52,43.25 652.78,43.05 654.70,43.40 C656.62,43.75 658.77,43.87 661.10,46.00 C663.43,48.13 665.72,52.37 668.70,56.20 C671.68,60.03 675.58,65.60 679.00,69.00 C682.42,72.40 685.80,75.03 689.20,76.60 C692.60,78.17 696.00,78.40 699.40,78.40 C702.80,78.40 706.20,77.75 709.60,76.60 C713.00,75.45 716.40,73.83 719.80,71.50 C723.20,69.17 726.58,65.58 730.00,62.60 C733.42,59.62 736.88,55.95 740.30,53.60 C743.72,51.25 747.95,49.43 750.50,48.50 C753.05,47.57 753.48,47.57 755.60,48.00 C757.72,48.43 760.65,49.52 763.20,51.10 C765.75,52.68 769.35,56.18 770.90,57.50 C772.45,58.82 772.23,58.75 772.50,59.00" transform="translate(0,0.70)" fill="none" stroke="#fff" stroke-width="1.55" stroke-linejoin="round" stroke-linecap="round"/>
<path d="M80,18.6 L85.6,25" stroke="#200020" stroke-width="1" fill="none"/>
<path d="M767.5,63.6 L771.2,59.4" stroke="#200000" stroke-width="1" fill="none"/>
<rect x="119.0" y="286.5" width="41.0" height="2.2" fill="#000"/>
<rect x="172.2" y="286.5" width="44.8" height="2.2" fill="#000"/>
<rect x="260.2" y="286.5" width="79.5" height="2.2" fill="#000"/>
<rect x="440.2" y="286.5" width="100.8" height="2.2" fill="#000"/>
<rect x="162.1" y="78.9" width="2.2" height="44.6" fill="#fff"/>
<rect x="285.0" y="78.9" width="2.2" height="44.6" fill="#fff"/>
<rect x="455.0" y="78.9" width="2.2" height="44.6" fill="#fff"/>
<rect x="485.9" y="78.9" width="2.2" height="44.6" fill="#000"/>
<rect x="77.3" y="4.6" width="2" height="406.2" fill="#000"/>
<rect x="77.3" y="408.2" width="696.4" height="2.6" fill="#000"/>
<rect x="772.4" y="4.6" width="1.4" height="406" fill="#000"/>
<rect x="77.7" y="404" width="2.2" height="11.4" fill="#000"/>
<rect x="106.6" y="404" width="2.2" height="11.4" fill="#000"/>
<rect x="135.5" y="404" width="2.2" height="11.4" fill="#000"/>
<rect x="164.5" y="404" width="2.2" height="11.4" fill="#000"/>
<rect x="193.4" y="404" width="2.2" height="11.4" fill="#000"/>
<rect x="222.3" y="404" width="2.2" height="11.4" fill="#000"/>
<rect x="251.2" y="404" width="2.2" height="11.4" fill="#000"/>
<rect x="280.1" y="404" width="2.2" height="11.4" fill="#000"/>
<rect x="309.0" y="404" width="2.2" height="11.4" fill="#000"/>
<rect x="337.9" y="404" width="2.2" height="11.4" fill="#000"/>
<rect x="366.9" y="404" width="2.2" height="11.4" fill="#000"/>
<rect x="395.8" y="404" width="2.2" height="11.4" fill="#000"/>
<rect x="424.7" y="404" width="2.2" height="11.4" fill="#000"/>
<rect x="453.6" y="404" width="2.2" height="11.4" fill="#000"/>
<rect x="482.5" y="404" width="2.2" height="11.4" fill="#000"/>
<rect x="511.4" y="404" width="2.2" height="11.4" fill="#000"/>
<rect x="540.4" y="404" width="2.2" height="11.4" fill="#000"/>
<rect x="569.3" y="404" width="2.2" height="11.4" fill="#000"/>
<rect x="598.2" y="404" width="2.2" height="11.4" fill="#000"/>
<rect x="627.1" y="404" width="2.2" height="11.4" fill="#000"/>
<rect x="656.0" y="404" width="2.2" height="11.4" fill="#000"/>
<rect x="684.9" y="404" width="2.2" height="11.4" fill="#000"/>
<rect x="713.9" y="404" width="2.2" height="11.4" fill="#000"/>
<rect x="742.8" y="404" width="2.2" height="11.4" fill="#000"/>
<rect x="771.7" y="404" width="2.2" height="11.4" fill="#000"/>
<rect x="72.8" y="408.5" width="11" height="2" fill="#000"/>
<rect x="72.8" y="368.1" width="11" height="2" fill="#000"/>
<rect x="72.8" y="327.6" width="11" height="2" fill="#000"/>
<rect x="72.8" y="287.1" width="11" height="2" fill="#000"/>
<rect x="72.8" y="246.7" width="11" height="2" fill="#000"/>
<rect x="72.8" y="206.2" width="11" height="2" fill="#000"/>
<rect x="72.8" y="165.8" width="11" height="2" fill="#000"/>
<rect x="72.8" y="125.4" width="11" height="2" fill="#000"/>
<rect x="72.8" y="84.9" width="11" height="2" fill="#000"/>
<rect x="72.8" y="44.4" width="11" height="2" fill="#000"/>
<rect x="72.8" y="4.0" width="11" height="2" fill="#000"/>
<text transform="translate(32.10,416.10) scale(0.9641,1)" font-size="21.20" fill="#000" stroke="#000" stroke-width="0.35">0.00</text>
<text transform="translate(32.10,375.65) scale(0.9641,1)" font-size="21.20" fill="#000" stroke="#000" stroke-width="0.35">0.10</text>
<text transform="translate(32.10,335.20) scale(0.9641,1)" font-size="21.20" fill="#000" stroke="#000" stroke-width="0.35">0.20</text>
<text transform="translate(32.10,294.75) scale(0.9641,1)" font-size="21.20" fill="#000" stroke="#000" stroke-width="0.35">0.30</text>
<text transform="translate(32.10,254.30) scale(0.9641,1)" font-size="21.20" fill="#000" stroke="#000" stroke-width="0.35">0.40</text>
<text transform="translate(32.10,213.85) scale(0.9641,1)" font-size="21.20" fill="#000" stroke="#000" stroke-width="0.35">0.50</text>
<text transform="translate(32.10,173.40) scale(0.9641,1)" font-size="21.20" fill="#000" stroke="#000" stroke-width="0.35">0.60</text>
<text transform="translate(32.10,132.95) scale(0.9641,1)" font-size="21.20" fill="#000" stroke="#000" stroke-width="0.35">0.70</text>
<text transform="translate(32.10,92.50) scale(0.9641,1)" font-size="21.20" fill="#000" stroke="#000" stroke-width="0.35">0.80</text>
<text transform="translate(32.10,52.05) scale(0.9641,1)" font-size="21.20" fill="#000" stroke="#000" stroke-width="0.35">0.90</text>
<text transform="translate(31.11,13.40) scale(0.9885,1)" font-size="21.20" fill="#000" stroke="#000" stroke-width="0.35">1.00</text>
<text transform="translate(62.50,441.70) scale(1.0010,1)" font-size="21.20" fill="#000" stroke="#000" stroke-width="0.35">300</text>
<text transform="translate(179.20,441.70) scale(1.0010,1)" font-size="21.20" fill="#000" stroke="#000" stroke-width="0.35">400</text>
<text transform="translate(295.40,441.90) scale(1.0010,1)" font-size="21.20" fill="#000" stroke="#000" stroke-width="0.35">500</text>
<text transform="translate(412.70,441.90) scale(1.0010,1)" font-size="21.20" fill="#000" stroke="#000" stroke-width="0.35">600</text>
<text transform="translate(526.30,441.90) scale(1.0010,1)" font-size="21.20" fill="#000" stroke="#000" stroke-width="0.35">700</text>
<text transform="translate(644.70,439.20) scale(1.0010,1)" font-size="21.20" fill="#000" stroke="#000" stroke-width="0.35">800</text>
<text transform="translate(754.70,439.20) scale(1.0010,1)" font-size="21.20" fill="#000" stroke="#000" stroke-width="0.35">900</text>
<text transform="translate(315.80,463.80) scale(0.9873,1)" font-size="21.20" fill="#000" stroke="#000" stroke-width="0.35">Wavelength [nm]</text>
<text transform="translate(166.50,189.90) scale(0.9679,1)" font-size="32.60" fill="#fff" stroke="#fff" stroke-width="0.35">Strömgren</text>
<text transform="translate(309.00,334.80) scale(0.9853,1)" font-size="21.20" fill="#000" stroke="#000" stroke-width="0.35">Thuan–Gunn</text>
<text transform="translate(144.90,145.60) scale(0.9473,1)" font-size="21.20" fill="#fff">O II</text>
<text transform="translate(270.61,145.60) scale(0.9923,1)" font-size="21.20" fill="#fff" stroke="#fff" stroke-width="0.35">H</text>
<text transform="translate(288.62,145.60) scale(1.1778,1)" font-size="21.00" fill="#fff" font-family="'Liberation Serif', 'DejaVu Serif', serif" font-weight="normal">β</text>
<text transform="translate(437.30,145.30) scale(0.9866,1)" font-size="21.20" fill="#fff">S III</text>
<text transform="translate(479.56,69.80) scale(0.9385,1)" font-size="21.20" fill="#000" stroke="#000" stroke-width="0.35">H</text>
<text transform="translate(494.70,69.80) scale(1.1636,1)" font-size="21.00" fill="#000" font-family="'Liberation Serif', 'DejaVu Serif', serif" font-weight="normal">α</text>
<text transform="translate(131.74,221.00) scale(0.9636,1)" font-size="21.20" fill="#000" stroke="#000" stroke-width="0.35">u</text>
<text transform="translate(204.10,221.00) scale(0.9167,1)" font-size="21.20" fill="#000" stroke="#000" stroke-width="0.35">v</text>
<text transform="translate(270.03,221.00) scale(0.9667,1)" font-size="21.20" fill="#000" stroke="#000" stroke-width="0.35">b</text>
<text transform="translate(371.20,221.00) scale(0.9667,1)" font-size="21.20" fill="#000" stroke="#000" stroke-width="0.35">y</text>
<text transform="translate(648.20,224.60) scale(1.0000,1)" font-size="21.20" fill="#000" stroke="#000" stroke-width="0.35">I</text>
<text transform="translate(127.95,312.90) scale(0.9455,1)" font-size="21.20" fill="#000" stroke="#000" stroke-width="0.35">u</text>
<text transform="translate(188.70,312.90) scale(0.9083,1)" font-size="21.20" fill="#000" stroke="#000" stroke-width="0.35">v</text>
<text transform="translate(286.80,312.90) scale(0.8917,1)" font-size="21.20" fill="#000" stroke="#000" stroke-width="0.35">g</text>
<text transform="translate(480.64,315.40) scale(1.0571,1)" font-size="21.20" fill="#000" stroke="#000" stroke-width="0.35">r</text>
<text transform="translate(16.3,298.89) rotate(-90) scale(0.9893,1)" font-size="21.20" fill="#000" stroke="#000" stroke-width="0.35">Eff. Transmission</text>
</svg>
</body></html>
